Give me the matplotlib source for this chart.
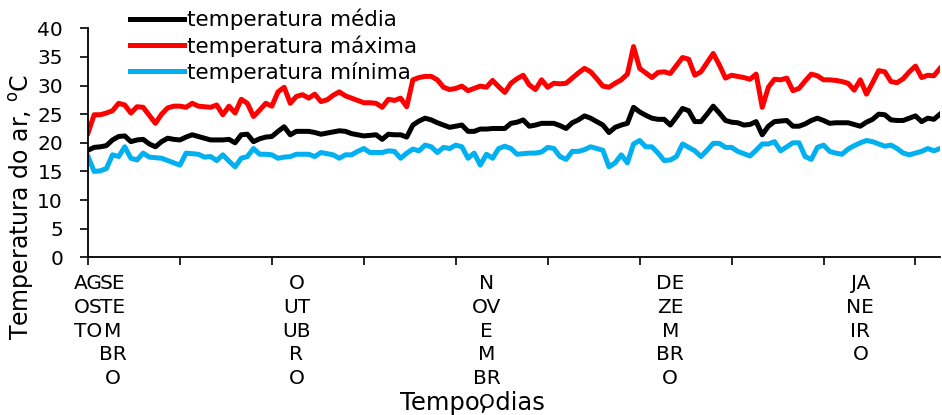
import numpy as np
import matplotlib
matplotlib.use("Agg")
import matplotlib.pyplot as plt

# the source chart was stretched sideways; DejaVu Sans is about as wide
plt.rcParams['font.family'] = ['DejaVu Sans']
plt.rcParams['mathtext.fontset'] = 'dejavusans'

# daily air temperature (deg C)
temp_media = [
    18.7, 19.2, 19.3, 19.5, 20.5, 21.1, 21.2, 20.2, 20.5, 20.6,
    19.8, 19.3, 20.2, 20.8, 20.6, 20.5, 21.0, 21.4, 21.1, 20.8,
    20.5, 20.5, 20.5, 20.6, 20.0, 21.4, 21.5, 20.2, 20.7, 21.0,
    21.1, 22.0, 22.8, 21.4, 22.0, 22.0, 22.0, 21.8, 21.5, 21.7,
    21.9, 22.1, 22.0, 21.6, 21.4, 21.2, 21.3, 21.4, 20.6, 21.5,
    21.4, 21.4, 21.0, 23.1, 23.8, 24.3, 24.0, 23.5, 23.1, 22.7,
    22.9, 23.1, 22.0, 22.0, 22.4, 22.4, 22.5, 22.5, 22.5, 23.4,
    23.6, 24.0, 22.9, 23.1, 23.4, 23.4, 23.4, 23.0, 22.5, 23.5,
    24.0, 24.7, 24.3, 23.7, 23.1, 21.8, 22.7, 23.1, 23.4, 26.2,
    25.4, 24.8, 24.3, 24.1, 24.1, 23.1, 24.5, 26.0, 25.6, 23.7,
    23.7, 25.0, 26.4, 25.2, 23.9, 23.6, 23.5, 23.1, 23.2, 23.7,
    21.4, 22.9, 23.7, 23.8, 23.9, 22.9, 22.9, 23.3, 23.9, 24.3,
    23.9, 23.4, 23.5, 23.5, 23.5, 23.2, 22.9, 23.6, 24.1, 25.0,
    24.9, 24.0, 23.9, 23.9, 24.3, 24.7, 23.7, 24.3, 24.1, 25.0,
]
temp_maxima = [
    21.7, 24.9, 24.9, 25.2, 25.6, 26.9, 26.6, 25.2, 26.3, 26.2,
    24.8, 23.4, 25.0, 26.1, 26.4, 26.4, 26.2, 26.9, 26.4, 26.3,
    26.2, 26.6, 24.9, 26.4, 25.2, 27.6, 26.9, 24.6, 25.7, 26.9,
    26.4, 28.9, 29.7, 26.9, 28.1, 28.4, 27.8, 28.5, 27.2, 27.5,
    28.3, 28.9, 28.2, 27.8, 27.4, 27.0, 27.0, 26.9, 26.2, 27.6,
    27.4, 27.8, 26.3, 31.0, 31.4, 31.6, 31.6, 31.0, 29.7, 29.3,
    29.5, 29.9, 29.1, 29.5, 29.9, 29.7, 30.9, 29.8, 28.8, 30.4,
    31.2, 31.8, 30.1, 29.3, 31.0, 29.7, 30.4, 30.3, 30.4, 31.3,
    32.2, 33.0, 32.4, 31.2, 29.9, 29.7, 30.4, 31.0, 32.0, 36.8,
    33.0, 32.2, 31.4, 32.3, 32.4, 32.1, 33.5, 34.9, 34.6, 31.8,
    32.4, 34.0, 35.6, 33.6, 31.3, 31.8, 31.6, 31.4, 31.1, 32.0,
    26.2, 29.7, 31.1, 31.0, 31.3, 29.1, 29.5, 30.8, 32.0, 31.7,
    31.0, 31.0, 30.9, 30.7, 30.4, 29.2, 31.0, 28.5, 30.5, 32.6,
    32.4, 30.7, 30.5, 31.2, 32.4, 33.4, 31.4, 31.8, 31.7, 33.0,
]
temp_minima = [
    17.6, 15.0, 15.1, 15.5, 17.9, 17.6, 19.3, 17.3, 17.0, 18.2,
    17.5, 17.4, 17.3, 16.9, 16.5, 16.1, 18.2, 18.1, 18.0, 17.5,
    17.6, 16.9, 17.9, 16.8, 15.8, 17.3, 17.6, 19.0, 18.0, 18.0,
    17.9, 17.3, 17.5, 17.6, 18.0, 18.0, 18.0, 17.6, 18.3, 18.1,
    17.9, 17.3, 17.9, 17.9, 18.5, 19.0, 18.3, 18.3, 18.3, 18.6,
    18.5, 17.3, 18.2, 18.9, 18.6, 19.6, 19.3, 18.3, 19.2, 19.0,
    19.6, 19.3, 17.3, 18.2, 16.1, 18.0, 17.3, 19.0, 19.4, 19.0,
    18.0, 18.1, 18.2, 18.2, 18.4, 19.2, 19.0, 17.6, 17.1, 18.5,
    18.5, 18.8, 19.3, 19.0, 18.7, 15.8, 16.5, 17.9, 16.5, 19.8,
    20.4, 19.3, 19.3, 18.2, 16.9, 17.0, 17.6, 19.8, 19.2, 18.6,
    17.6, 18.7, 19.9, 19.9, 19.2, 19.2, 18.5, 18.1, 17.7, 18.7,
    19.8, 19.8, 20.2, 18.6, 19.3, 20.0, 20.0, 17.6, 17.1, 19.2,
    19.6, 18.5, 18.2, 18.0, 18.9, 19.5, 20.0, 20.4, 20.2, 19.8,
    19.4, 19.6, 19.0, 18.2, 17.9, 18.2, 18.5, 19.0, 18.6, 19.0,
]

# month labels, wrapped the way the spreadsheet wrapped them
month_pos = [0, 4, 34, 65, 95, 126]
month_labels = [
    "AG\nOS\nTO",
    "SE\nTE\nM\nBR\nO",
    "O\nUT\nUB\nR\nO",
    "N\nOV\nE\nM\nBR\nO",
    "DE\nZE\nM\nBR\nO",
    "JA\nNE\nIR\nO",
]

days = np.arange(len(temp_media))

fig = plt.figure(figsize=(9.42, 4.15), dpi=100)
ax = fig.add_axes([88 / 942, 1 - 257.3 / 415, 852 / 942, 229 / 415])

ax.plot(days, temp_media, color='black', lw=3.6, label='temperatura média')
ax.plot(days, temp_maxima, color='#ff0000', lw=3.6, label='temperatura máxima')
ax.plot(days, temp_minima, color='#00b0f0', lw=3.6, label='temperatura mínima')

ax.set_xlim(0, 139)
ax.set_ylim(0, 40)
ax.set_yticks(range(0, 41, 5))

ax.xaxis.remove_overlapping_locs = False
ax.set_xticks(range(0, 140, 15))
ax.set_xticklabels([])
ax.set_xticks(month_pos, minor=True)
ax.set_xticklabels(month_labels, minor=True, fontsize=14.5, linespacing=1.32)
ax.tick_params(axis='x', which='minor', length=0, pad=12)
ax.tick_params(axis='x', which='major', direction='out', length=5.5, width=1.2)
ax.tick_params(axis='y', direction='out', length=6, width=1.2, labelsize=14.5, pad=12)

for side in ('top', 'right'):
    ax.spines[side].set_visible(False)
for side in ('left', 'bottom'):
    ax.spines[side].set_linewidth(1.3)

fig.text(22 / 942, 1 - 207 / 415, r'Temperatura do ar, $^{\mathregular{o}}$C',
         rotation=90, ha='center', va='center', fontsize=17)
fig.text(472 / 942, 1 - 403 / 415, 'Tempo, dias', ha='center', va='center',
         fontsize=17.5)

fig.legend(loc='upper left', bbox_to_anchor=(130 / 942, 1 - 9 / 415),
           frameon=False, fontsize=15.5, handlelength=2.5, handletextpad=0.15,
           labelspacing=0.23, borderpad=0, borderaxespad=0)

fig.savefig('out.png', dpi=100)
